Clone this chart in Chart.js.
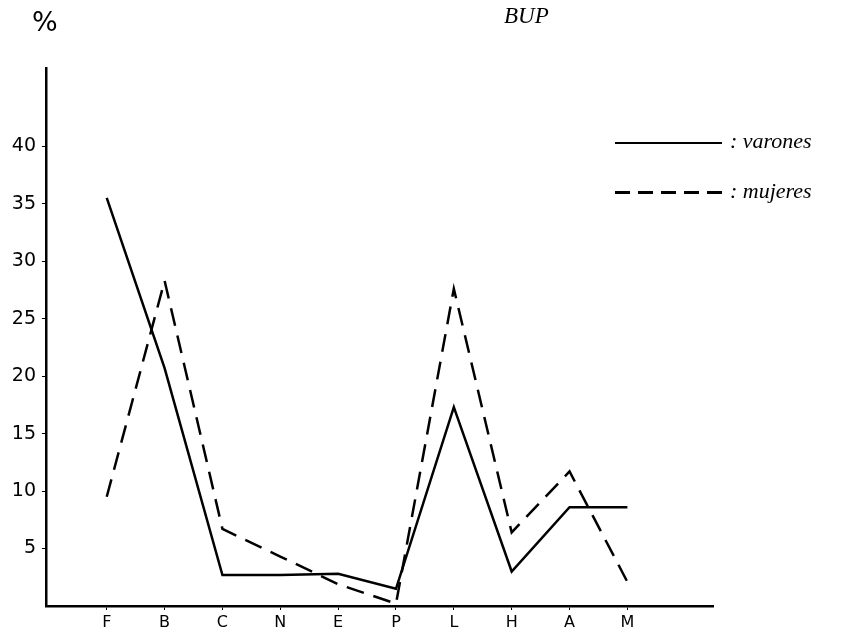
<!DOCTYPE html>
<html lang="es">
<head>
<meta charset="UTF-8">
<title>BUP</title>
<style>
  body { margin: 0; background: #fff; }
  #wrap { position: relative; width: 853px; height: 635px; }
  #titulo { position: absolute; left: 504px; top: 3px; font: italic 23px "Liberation Serif", serif; color: #000; }
  #pct { position: absolute; left: 32px; top: 6px; font: 27px "DejaVu Sans", sans-serif; color: #000; }
  .ley { position: absolute; left: 615px; font: italic 22px "Liberation Serif", serif; color: #000; white-space: nowrap; }
  .ley span { display: inline-block; width: 107px; height: 2px; vertical-align: middle; margin-right: 8px; }
</style>
</head>
<body>
<div id="wrap">
  <canvas id="grafico" width="853" height="635"></canvas>
  <div id="titulo">BUP</div>
  <div id="pct">%</div>
  <div class="ley" style="top:128px"><span style="background:#000"></span>: varones</div>
  <div class="ley" style="top:178px"><span style="height:3px;background:repeating-linear-gradient(90deg,#000 0 15px,transparent 15px 23px)"></span>: mujeres</div>
</div>

<script src="https://cdn.jsdelivr.net/npm/chart.js"></script>
<script>
  // categorias del eje x
  const categorias = ['F', 'B', 'C', 'N', 'E', 'P', 'L', 'H', 'A', 'M'];
  // porcentajes
  const varones = [35.5, 20.7, 2.7, 2.7, 2.8, 1.5, 17.3, 3.0, 8.6, 8.6];
  const mujeres = [9.5, 28.3, 6.7, 4.3, 1.9, 0.2, 27.6, 6.4, 11.7, 2.1];
  const ticksY = [5, 10, 15, 20, 25, 30, 35, 40];

  const puntos = arr => arr.map((v, i) => ({ x: i, y: v }));

  const ctx = document.getElementById('grafico').getContext('2d');
  new Chart(ctx, {
    type: 'line',
    data: {
      datasets: [{
        label: 'varones',
        data: puntos(varones),
        borderColor: '#000',
        borderWidth: 2.5,
        pointRadius: 0,
        tension: 0
      }, {
        label: 'mujeres',
        data: puntos(mujeres),
        borderColor: '#000',
        borderWidth: 2.5,
        borderDash: [18, 10],
        pointRadius: 0,
        tension: 0
      }]
    },
    options: {
      responsive: false,
      animation: false,
      layout: { padding: { top: 68, right: 140, left: 0, bottom: 0 } },
      plugins: { legend: { display: false }, tooltip: { enabled: false } },
      scales: {
        x: {
          type: 'linear',
          min: -1.05,
          max: 10.48,
          afterBuildTicks: s => { s.ticks = categorias.map((c, i) => ({ value: i })); },
          afterFit: s => { s.height = 29; },
          ticks: {
            callback: v => categorias[v],
            color: '#000',
            font: { family: 'DejaVu Sans', size: 16 },
            padding: 3
          },
          grid: { drawOnChartArea: false, color: '#000', tickLength: 4 },
          border: { color: '#000', width: 2.5 }
        },
        y: {
          min: 0,
          max: 46.8,
          afterBuildTicks: s => { s.ticks = ticksY.map(v => ({ value: v })); },
          afterFit: s => { s.width = 46; },
          ticks: {
            color: '#000',
            font: { family: 'DejaVu Sans', size: 19 },
            padding: 6
          },
          grid: { drawOnChartArea: false, color: '#000', tickLength: 4 },
          border: { color: '#000', width: 2.5 }
        }
      }
    }
  });
</script>
</body>
</html>
